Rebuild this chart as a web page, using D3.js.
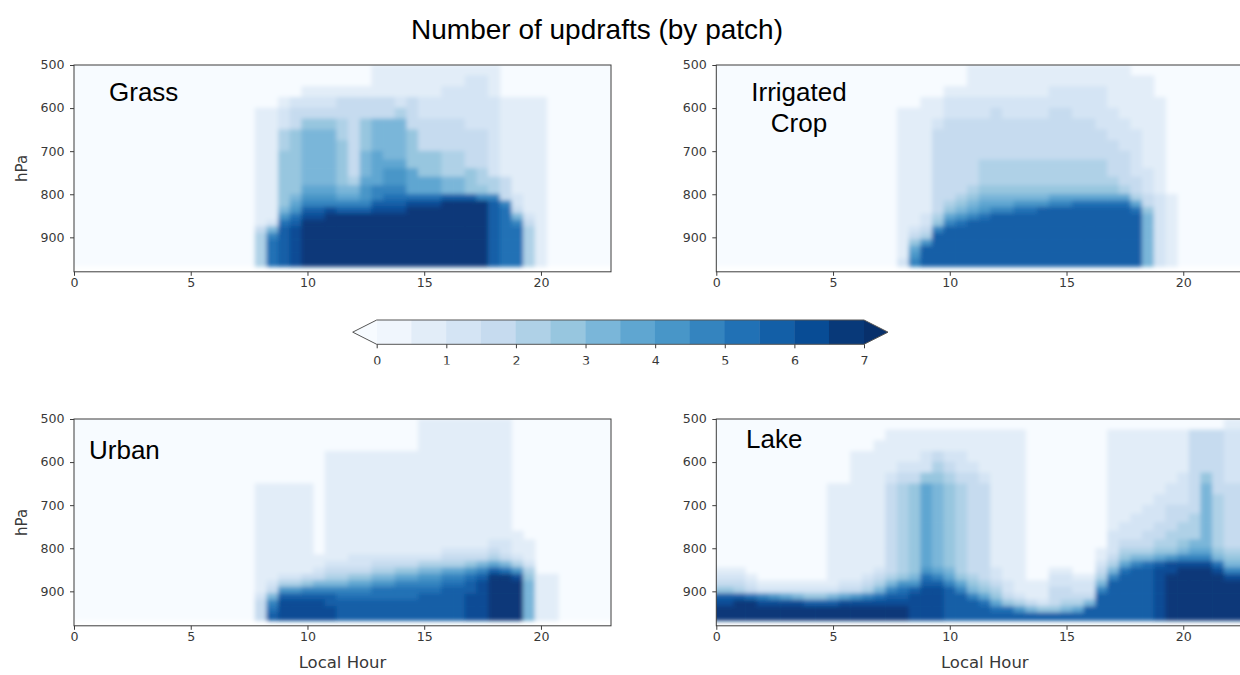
<!DOCTYPE html>
<html>
<head>
<meta charset="utf-8">
<script src="https://cdn.jsdelivr.net/npm/d3@7"></script>
<style>
  body { margin: 0; background: #fff; }
  svg { display: block; }
</style>
</head>
<body>
<svg id="fig" width="1240" height="675"></svg>
<script>
// ---- grid definition -------------------------------------------------------
// one column every half hour (0 ... 23 local hour)
const hours = d3.range(0, 23.25, 0.5);
// pressure-layer edges (hPa), from the top of the domain down to the surface
const pressureEdges = [500, 525, 550, 575, 600, 625, 650, 675, 700, 720, 740, 760, 780,
                       800, 815, 830, 845, 860, 875, 890, 905, 920, 935, 950, 968];
// contour levels of the colour scale (number of updrafts)
const colorLevels = [0, 0.5, 1, 1.5, 2, 2.5, 3, 3.5, 4, 4.5, 5, 5.5, 6, 6.5, 7];
const xTicks = [0, 5, 10, 15, 20];
const yTicks = [500, 600, 700, 800, 900];
const cbTicks = [0, 1, 2, 3, 4, 5, 6, 7];

// Each string is one half-hour column, layers listed from 500 hPa down to the surface.
// One character per layer = number of updrafts x 2 in hexadecimal (e = 7 or more).
const Z = "0000 0000 0000 0000 0000 0000";

const grass = [
  Z, Z, Z, Z, Z, Z, Z, Z, Z, Z, Z, Z, Z, Z, Z, Z,          // 0 - 7.5
  "0000 1111 1111 1111 1134 4444",                         // 8
  "0000 1111 1111 1111 1269 aaaa",
  "0001 2244 5555 5556 8abb bbbb",                         // 9
  "0002 3355 5555 5678 abcc cccc",
  "0012 3566 6666 789b cddd dddd",                         // 10
  "0012 3566 6666 789b cddd dddd",
  "0012 3566 6666 789c dddd dddd",                         // 11
  "0013 3445 5555 679b dddd dddd",
  "0013 3333 3334 679b dddd dddd",                         // 12
  "0013 3555 6667 889b dddd dddd",
  "1113 3666 7777 99bc dddd dddd",                         // 13
  "1113 3666 6788 9abc dddd dddd",
  "1112 4666 6788 9abc dddd dddd",                         // 14
  "1113 3355 5577 7acd dddd dddd",
  "1112 2333 5557 7acd dddd dddd",                         // 15
  "1112 2333 5557 7acd dddd dddd",
  "1122 2333 4446 6bdd dddd dddd",                         // 16
  "1122 2333 4446 6bdd dddd dddd",
  "1222 2233 3355 5bdd dddd dddd",                         // 17
  "1222 2233 3344 59dd dddd dddd",
  "1112 2222 2224 49bb bbbb bbbb",                         // 18
  "0001 1111 1113 339a aaaa aaaa",
  "0001 1111 1111 1223 69aa aaaa",                         // 19
  "0001 1111 1111 1111 2344 4444",
  "0001 1111 1111 1111 1111 1111",                         // 20
  Z, Z, Z, Z, Z, Z                                         // 20.5 - 23
];

const irrigatedCrop = [
  Z, Z, Z, Z, Z, Z, Z, Z, Z, Z, Z, Z, Z, Z, Z, Z,          // 0 - 7.5
  "0000 1111 1111 1111 1111 1112",                         // 8
  "0000 1111 1111 1111 1123 5789",
  "0001 1111 1111 1111 2234 8bbb",                         // 9
  "0001 1233 3333 3333 459b bbbb",
  "0012 2333 3333 3345 79bb bbbb",                         // 10
  "0012 2333 3333 3456 8abb bbbb",
  "1112 2333 3333 4567 9bbb bbbb",                         // 11
  "1112 2333 3444 5678 abbb bbbb",
  "1112 3333 3444 5679 bbbb bbbb",                         // 12
  "1112 2333 3444 5679 bbbb bbbb",
  "1112 2333 3444 568a bbbb bbbb",                         // 13
  "1112 2333 3444 568a bbbb bbbb",
  "1112 2333 3444 568b bbbb bbbb",                         // 14
  "1122 3333 3444 579b bbbb bbbb",
  "1122 3333 3444 579b bbbb bbbb",                         // 15
  "1122 2333 3444 57ab bbbb bbbb",
  "1122 2333 3444 57ab bbbb bbbb",                         // 16
  "1122 2233 3444 57ab bbbb bbbb",
  "1111 2223 3334 57ab bbbb bbbb",                         // 17
  "1111 1222 3333 47ab bbbb bbbb",
  "0111 1122 2223 347a bbbb bbbb",                         // 18
  "0111 1111 1122 2335 6666 6666",
  "0001 1111 1111 1222 2222 2222",                         // 19
  "0000 0000 0000 0111 1111 1111",
  Z, Z, Z, Z, Z, Z, Z                                      // 20 - 23
];

const urban = [
  Z, Z, Z, Z, Z, Z, Z, Z, Z, Z, Z, Z, Z, Z, Z, Z,          // 0 - 7.5
  "0000 0011 1111 1111 1111 2333",                         // 8
  "0000 0011 1111 1111 1123 69ab",
  "0000 0011 1111 1111 1248 bccc",                         // 9
  "0000 0011 1111 1111 1248 bccc",
  "0000 0011 1111 1111 1359 bccc",                         // 10
  "0000 0000 0000 0011 2369 bccc",
  "0001 1111 1111 1112 3469 bbcc",                         // 11
  "0001 1111 1111 1112 3469 abbb",
  "0001 1111 1111 1122 3579 abbb",                         // 12
  "0001 1111 1111 1122 3579 abbb",
  "0001 1111 1111 1123 468a abbb",                         // 13
  "0001 1111 1111 1123 468a abbb",
  "0001 1111 1111 1123 579a abbb",                         // 14
  "0001 1111 1111 1123 579a abbb",
  "1111 1111 1111 1124 689a bbbb",                         // 15
  "1111 1111 1111 1124 689a bbbb",
  "1111 1111 1111 1234 79ab bbbb",                         // 16
  "1111 1111 1111 1234 79ab bbbb",
  "1111 1111 1111 1235 8abb cccc",                         // 17
  "1111 1111 1111 1236 9bcc cccc",
  "1111 1111 1111 2347 bddd dddd",                         // 18
  "1111 1111 1111 2236 addd dddd",
  "0000 0000 0001 1124 8cdd dddd",                         // 19
  "0000 0000 0000 1112 4566 6666",
  "0000 0000 0000 0000 0111 1111",                         // 20
  "0000 0000 0000 0000 0111 1111",
  Z, Z, Z, Z, Z                                            // 21 - 23
];

const lake = [
  "0000 0000 0000 0000 1235 bcdd",                         // 0
  "0000 0000 0000 0000 1235 bcdd",
  "0000 0000 0000 0000 1234 bddd",                         // 1
  "0000 0000 0000 0000 0123 addd",
  "0000 0000 0000 0000 0012 9cdd",                         // 2
  "0000 0000 0000 0000 0012 8cdd",
  "0000 0000 0000 0000 0012 7cdd",                         // 3
  "0000 0000 0000 0000 0012 6cdd",
  "0000 0000 0000 0000 0012 5bdd",                         // 4
  "0000 0000 0000 0000 0012 5bdd",
  "0000 0011 1111 1111 1112 6bdd",                         // 5
  "0000 0011 1111 1111 1123 7cdd",
  "0001 1111 1111 1111 1123 8cdd",                         // 6
  "0001 1111 1111 1111 1234 9cdd",
  "0011 1111 1111 1111 2346 acdd",                         // 7
  "0111 1233 3333 3333 3469 bcdd",
  "0111 2344 4444 4444 458a bcdd",                         // 8
  "0111 2355 5555 5555 568b cccc",
  "0112 2577 7777 7777 8abc cccc",                         // 9
  "0113 4566 6666 6666 79bc cccc",
  "0112 3455 5555 5555 679b bbbb",                         // 10
  "0112 2344 4444 4444 4579 bbbb",
  "0111 2333 3333 3333 3456 9bbb",                         // 11
  "0111 1233 3333 3333 3345 7abb",
  "0111 1111 1111 1111 2234 57ab",                         // 12
  "0111 1111 1111 1111 1122 35ab",
  "0111 1111 1111 1111 1111 248b",                         // 13
  "0000 0000 0000 0000 0011 136b",
  "0000 0000 0000 0000 0011 125b",                         // 14
  "0000 0000 0000 0000 1223 335b",
  "0000 0000 0000 0000 1223 346b",                         // 15
  "0000 0000 0000 0000 0122 347b",
  "0000 0000 0000 0000 0122 36bb",                         // 16
  "0000 0000 0000 0112 3469 bbbb",
  "0111 1111 1112 2234 69bb bbbb",                         // 17
  "0111 1111 1122 3457 abbb bbbb",
  "0111 1111 1222 3469 bbbb bbbb",                         // 18
  "0111 1111 2223 346a bbbb bbbb",
  "0111 1112 2233 457b cccc cccc",                         // 19
  "0111 1122 3334 458c cddd dddd",
  "0111 1222 3344 569c dddd dddd",                         // 20
  "0333 3333 3444 679c dddd dddd",
  "0333 3566 6666 679c dddd dddd",                         // 21
  "0333 3334 4444 456a cddd dddd",
  "1222 2233 3333 3456 9cdd dddd",                         // 22
  "1222 2233 3333 3456 9cdd dddd",
  "1222 2233 3333 3456 9cdd dddd"                          // 23
];

// ---- colours: matplotlib-style "Blues", one colour per contour band -------------
const bluesNodes = ["#f7fbff", "#deebf7", "#c6dbef", "#9ecae1", "#6baed6",
                    "#4292c6", "#2171b5", "#08519c", "#08306b"];
const blues = d3.piecewise(d3.interpolateRgb, bluesNodes);
const nBands = colorLevels.length - 1;
const bandColors = d3.range(nBands).map(k => blues((k + 0.5) / nBands));
const color = d3.scaleThreshold()
  .domain(colorLevels)
  .range([bluesNodes[0], ...bandColors, bluesNodes[8]]);

const decode = col => col.replace(/ /g, "").split("").map(c => parseInt(c, 16) / 2);

// ---- layout ------------------------------------------------------------------
const W = 537, H = 206.8;
const panels = [
  { data: grass,         x0: 74,    y0: 65,  label: ["Grass"],             lx: 109, ly: [100.7], anchor: "start",  yLabel: true,  xLabel: false },
  { data: irrigatedCrop, x0: 716.3, y0: 65,  label: ["Irrigated", "Crop"], lx: 799, ly: [100.7, 131.7], anchor: "middle", yLabel: false, xLabel: false },
  { data: urban,         x0: 74,    y0: 419, label: ["Urban"],             lx: 89,  ly: [459], anchor: "start",  yLabel: true,  xLabel: true },
  { data: lake,          x0: 716.3, y0: 419, label: ["Lake"],              lx: 746, ly: [448], anchor: "start",  yLabel: false, xLabel: true }
];

const svg = d3.select("#fig");
const defs = svg.append("defs");

const AX = "#3c3c3c";
const tickFont = "'DejaVu Sans', sans-serif";

// title
svg.append("text")
  .attr("x", 597).attr("y", 38.5)
  .attr("text-anchor", "middle")
  .style("font-family", "'Liberation Sans', Arial, sans-serif")
  .style("font-size", "28px")
  .attr("fill", "#000")
  .text("Number of updrafts (by patch)");

panels.forEach((p, i) => {
  const x = d3.scaleLinear().domain([0, 23]).range([p.x0, p.x0 + W]);
  const y = d3.scaleLinear().domain([500, 980]).range([p.y0, p.y0 + H]);
  const g = svg.append("g");

  const clipId = "clip" + i;
  defs.append("clipPath").attr("id", clipId)
    .append("rect").attr("x", x(0)).attr("y", y(500))
    .attr("width", x(23) - x(0)).attr("height", y(980) - y(500));

  // soft edges between the contour bands
  const filterId = "soft" + i;
  defs.append("filter").attr("id", filterId)
    .attr("filterUnits", "userSpaceOnUse")
    .attr("x", x(0) - 30).attr("y", y(500) - 30)
    .attr("width", W + 60).attr("height", H + 60)
    .append("feGaussianBlur").attr("stdDeviation", 2.2);

  const field = g.append("g").attr("clip-path", `url(#${clipId})`)
    .append("g").attr("filter", `url(#${filterId})`);

  // empty (zero) background behind the bands
  field.append("rect")
    .attr("x", x(-0.5)).attr("y", y(485))
    .attr("width", x(23.5) - x(-0.5)).attr("height", y(968) - y(485))
    .attr("fill", bluesNodes[0]);

  const cells = [];
  p.data.forEach((col, ci) => {
    const h = hours[ci];
    decode(col).forEach((v, r) => {
      if (v > 0) cells.push({ h, top: pressureEdges[r], bot: pressureEdges[r + 1], v });
    });
  });
  field.selectAll("rect.cell").data(cells).join("rect")
    .attr("class", "cell")
    .attr("x", d => x(d.h - 0.25) - 0.3)
    .attr("y", d => y(d.top) - 0.3)
    .attr("width", d => x(d.h + 0.25) - x(d.h - 0.25) + 0.6)
    .attr("height", d => y(d.bot) - y(d.top) + 0.6)
    .attr("fill", d => color(d.v));

  // frame
  g.append("rect")
    .attr("x", x(0)).attr("y", y(500))
    .attr("width", x(23) - x(0)).attr("height", y(980) - y(500))
    .attr("fill", "none").attr("stroke", AX).attr("stroke-width", 1);

  // axes
  const xa = g.append("g").attr("transform", `translate(0,${y(980)})`)
    .call(d3.axisBottom(x).tickValues(xTicks).tickSize(4).tickPadding(3));
  const ya = g.append("g").attr("transform", `translate(${x(0)},0)`)
    .call(d3.axisLeft(y).tickValues(yTicks).tickSize(4).tickPadding(5));
  [xa, ya].forEach(a => {
    a.select(".domain").remove();
    a.selectAll("line").attr("stroke", AX);
    a.selectAll("text")
      .style("font-family", tickFont).style("font-size", "12px")
      .attr("fill", "#383838")
      .attr("transform", "scale(1.05,1)");
  });

  if (p.yLabel) {
    g.append("text")
      .attr("transform", `translate(27,${(y(500) + y(980)) / 2}) rotate(-90)`)
      .attr("text-anchor", "middle")
      .style("font-family", tickFont).style("font-size", "15px")
      .attr("fill", "#383838").text("hPa");
  }
  if (p.xLabel) {
    g.append("text")
      .attr("transform", `translate(${(x(0) + x(23)) / 2},${y(980) + 42}) scale(1.1,1)`)
      .attr("text-anchor", "middle")
      .style("font-family", tickFont).style("font-size", "15px")
      .attr("fill", "#383838").text("Local Hour");
  }

  // patch name
  p.label.forEach((t, k) => {
    g.append("text")
      .attr("x", p.lx).attr("y", p.ly[k])
      .attr("text-anchor", p.anchor)
      .style("font-family", "'Liberation Sans', Arial, sans-serif")
      .style("font-size", "26px")
      .attr("fill", "#000").text(t);
  });
});

// ---- colour bar ----------------------------------------------------------------
const cb = svg.append("g");
const cx = d3.scaleLinear().domain([0, 7]).range([376.7, 864]);
const cbTop = 320, cbBot = 344.3, cbMid = (cbTop + cbBot) / 2, tip = 24;

cb.selectAll("rect.band").data(d3.range(nBands)).join("rect")
  .attr("class", "band")
  .attr("x", k => cx(colorLevels[k]) - 0.2)
  .attr("y", cbTop)
  .attr("width", k => cx(colorLevels[k + 1]) - cx(colorLevels[k]) + 0.4)
  .attr("height", cbBot - cbTop)
  .attr("fill", k => color(colorLevels[k]));

cb.append("path")
  .attr("d", `M${cx(0)},${cbTop} L${cx(0) - tip},${cbMid} L${cx(0)},${cbBot} Z`)
  .attr("fill", color(-1));
cb.append("path")
  .attr("d", `M${cx(7)},${cbTop} L${cx(7) + tip},${cbMid} L${cx(7)},${cbBot} Z`)
  .attr("fill", color(7));
cb.append("path")
  .attr("d", `M${cx(0) - tip},${cbMid} L${cx(0)},${cbTop} L${cx(7)},${cbTop} L${cx(7) + tip},${cbMid} L${cx(7)},${cbBot} L${cx(0)},${cbBot} Z`)
  .attr("fill", "none").attr("stroke", "#555").attr("stroke-width", 1);

// tick labels of the colour bar are cut off near their bottom
defs.append("clipPath").attr("id", "cbclip")
  .append("rect").attr("x", 300).attr("y", 340).attr("width", 640).attr("height", 24.6);

const cbAxis = cb.append("g").attr("clip-path", "url(#cbclip)")
  .append("g").attr("transform", `translate(0,${cbBot})`)
  .call(d3.axisBottom(cx).tickValues(cbTicks).tickSize(4).tickPadding(8).tickFormat(d3.format("d")));
cbAxis.select(".domain").remove();
cbAxis.selectAll("line").attr("stroke", AX);
cbAxis.selectAll("text")
  .style("font-family", tickFont).style("font-size", "12px")
  .attr("fill", "#383838")
  .attr("transform", "scale(1.05,1)");
</script>
</body>
</html>
